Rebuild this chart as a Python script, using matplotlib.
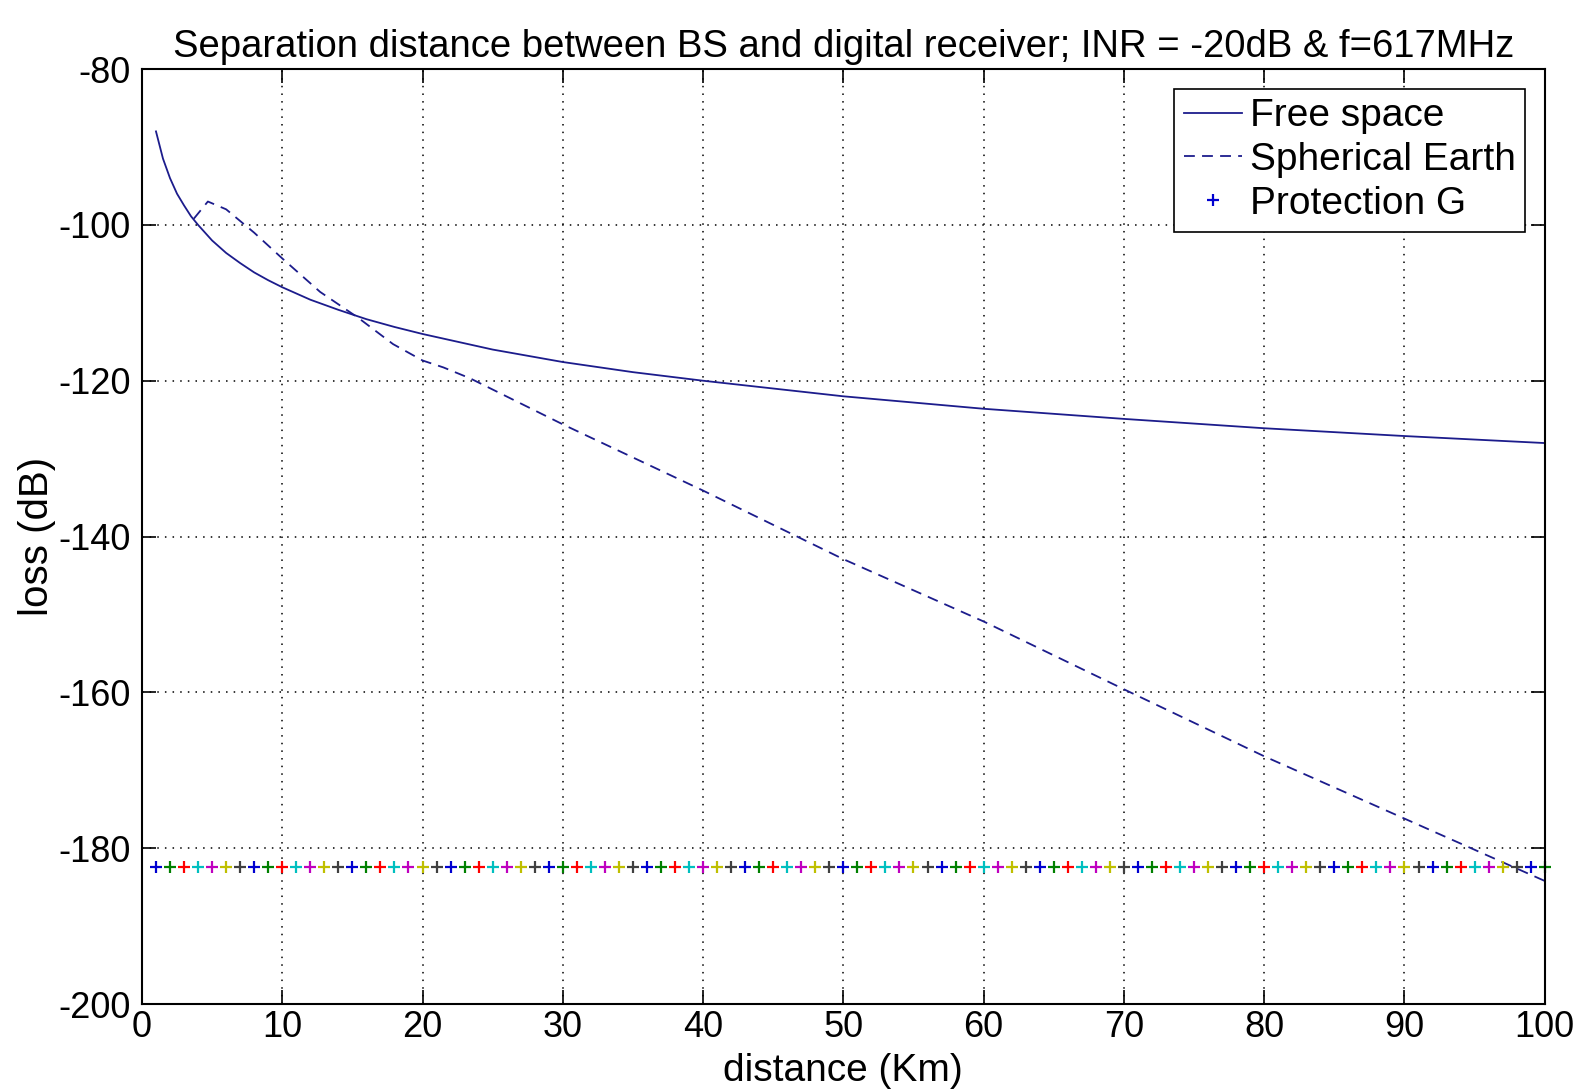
import numpy as np
import matplotlib
matplotlib.use("Agg")
import matplotlib.pyplot as plt

plt.rcParams['font.family'] = ['Liberation Sans', 'DejaVu Sans']
plt.rcParams['axes.unicode_minus'] = False

# Free space loss
fs_d = [1, 1.5, 2, 2.5, 3, 3.5, 4, 5, 6, 7, 8, 9, 10, 12, 14, 16, 18, 20, 25, 30, 35,
        40, 50, 60, 70, 80, 90, 100]
fs_loss = [-88.0, -91.5, -94.0, -96.0, -97.5, -98.9, -100.0, -102.0, -103.6, -104.9,
           -106.1, -107.1, -108.0, -109.6, -110.9, -112.1, -113.1, -114.0, -116.0,
           -117.6, -118.9, -120.0, -122.0, -123.6, -124.9, -126.1, -127.1, -128.0]

# Spherical earth loss
se_d = [3.7, 4.7, 6, 8, 10, 12.7, 15.4, 17.9, 20, 21.5, 23.4, 30, 40, 50, 60, 70, 80, 90, 100]
se_loss = [-99.2, -97.0, -98.0, -101.0, -104.3, -108.6, -111.9, -115.3, -117.4, -118.3,
           -119.7, -125.6, -134.1, -142.9, -150.9, -159.6, -168.2, -176.2, -184.2]

# protection level markers, one per km
prot_d = np.arange(1, 101)
prot_level = -182.4
matlab_colors = ['#0000d0', '#008000', '#ff0000', '#00bfbf', '#bf00bf', '#bfbf00', '#404040']

line_col = '#1c1c8c'

fig = plt.figure(figsize=(15.86, 10.91), dpi=100)
ax = fig.add_axes([0.0895, 0.0797, 0.8845, 0.857])

ax.plot(fs_d, fs_loss, '-', color=line_col, lw=1.3, label='Free space')
ax.plot(se_d, se_loss, '--', color=line_col, lw=1.3, dashes=(6, 4), label='Spherical Earth')
for i, d in enumerate(prot_d):
    ax.plot([d], [prot_level], '+', color=matlab_colors[i % 7], ms=8.5, mew=1.6,
            label='Protection G' if i == 0 else None, clip_on=False)

ax.set_xlim(0, 100)
ax.set_ylim(-200, -80)
ax.set_xticks(np.arange(0, 101, 10))
ax.set_yticks(np.arange(-200, -79, 20))
ax.grid(True, linestyle=(0, (1, 4)), color='black', lw=1.1)
ax.tick_params(direction='in', top=True, right=True, length=10, width=1.2, labelsize=26)
ax.tick_params(axis='x', pad=4)
ax.tick_params(axis='y', pad=8)
for s in ax.spines.values():
    s.set_linewidth(1.5)

ax.set_title('Separation distance between BS and digital receiver; INR = -20dB & f=617MHz',
             fontsize=27.5, pad=9)
ax.set_xlabel('distance (Km)', fontsize=28, labelpad=6)
ax.set_ylabel('loss (dB)', fontsize=29, labelpad=2)

leg = ax.legend(loc='upper right', fontsize=28, handlelength=1.5, handletextpad=0.2,
                borderpad=0.25, labelspacing=0.2, fancybox=False, framealpha=1,
                edgecolor='black', borderaxespad=0.5)
leg.get_frame().set_linewidth(1.2)

fig.savefig('out.png', dpi=100)
